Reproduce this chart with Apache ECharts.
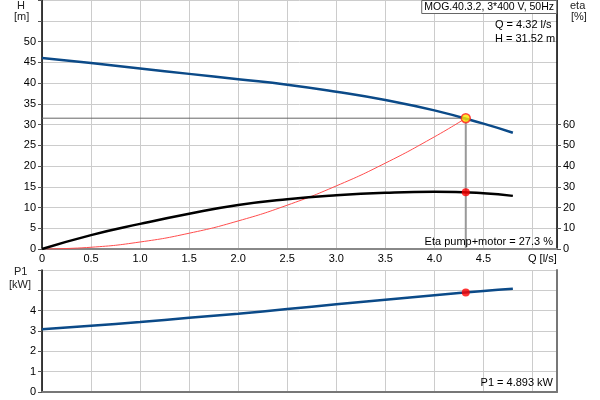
<!DOCTYPE html>
<html>
<head>
<meta charset="utf-8">
<script src="https://cdn.jsdelivr.net/npm/echarts@6/dist/echarts.min.js"></script>
<style>
html,body{margin:0;padding:0;background:#fff;}
#chart{width:600px;height:400px;}
</style>
</head>
<body>
<div id="chart"></div>
<script>
// ---- data ----
const Q = [0, 0.5, 1.0, 1.5, 2.0, 2.5, 3.0, 3.5, 4.0, 4.5, 4.8];
const H = [46.0, 44.8, 43.5, 42.2, 40.9, 39.6, 37.9, 35.9, 33.4, 30.2, 28.0];
const ETA = [0, 6.7, 12.1, 17.0, 21.2, 24.0, 25.9, 27.1, 27.6, 26.9, 25.6];
const P1 = [3.09, 3.26, 3.44, 3.65, 3.85, 4.08, 4.31, 4.54, 4.76, 4.97, 5.08];
const Q_SYS = [0, 0.5, 1.0, 1.5, 2.0, 2.5, 3.0, 3.5, 4.0, 4.32];
const H_SYS = [0, 0.42, 1.69, 3.80, 6.76, 10.56, 15.20, 20.69, 27.02, 31.52];
const Q_OP = 4.32, H_OP = 31.52, ETA_OP = 27.3, P1_OP = 4.893;
const H_TICKS = [0, 5, 10, 15, 20, 25, 30, 35, 40, 45, 50];
const ETA_TICKS = [0, 10, 20, 30, 40, 50, 60];
const P1_TICKS = [0, 1, 2, 3, 4];
const TITLE = 'MOG.40.3.2, 3*400 V, 50Hz';

const pair = (xs, ys) => xs.map((x, i) => [x, ys[i]]);
const FONT = '"Liberation Sans", Arial, sans-serif';
const GRID_C = '#cccccc';
const xLabel = v => (v === 0 ? '0' : (v > 4.9 ? '' : v.toFixed(1)));

function build(f) {
  const txt = (text, pos, size, color) => Object.assign({
    text: text, padding: 0, itemGap: 0,
    textStyle: f.plainText ? {fontSize: size || 11, fontWeight: 'normal', color: color || '#000'}
      : {fontSize: size || 11, fontWeight: 'normal', fontFamily: FONT, color: color || '#000'}
  }, pos);
  const box = Object.assign(txt(TITLE, {right: 43, top: 0}, 10.5), {padding: [2, 3, 1, 3], borderColor: '#666', borderWidth: 1});
  if (!f.noBg) box.backgroundColor = '#fff';
  const guides = f.markGuides ? [] : [
    {type: 'line', xAxisIndex: 0, yAxisIndex: 0, data: [[0, H_OP], [Q_OP, H_OP]], showSymbol: false,
      lineStyle: {color: '#666', width: 1}, z: 2},
    {type: 'line', xAxisIndex: 0, yAxisIndex: 0, data: [[Q_OP, H_OP], [Q_OP, 0]], showSymbol: false,
      lineStyle: {color: '#999', width: 2}, z: 2}
  ];
  const sys = {type: 'line', xAxisIndex: 0, yAxisIndex: 0, smooth: true, data: pair(Q_SYS, H_SYS), showSymbol: false,
    lineStyle: {color: '#ff4d4d', width: 1}, z: 3};
  if (f.markGuides) {
    sys.markLine = {silent: true, symbol: 'none', label: {show: false},
      data: [[{coord: [0, H_OP]}, {coord: [Q_OP, H_OP]}], [{coord: [Q_OP, H_OP]}, {coord: [Q_OP, 0]}]]};
  }
  return {
    animation: false,
    title: [
      box,
      txt('Q = ' + Q_OP.toFixed(2) + ' l/s', {left: 495, top: 19}),
      txt('H = ' + H_OP.toFixed(2) + ' m', {left: 495, top: 33}),
      txt('Eta pump+motor = ' + ETA_OP.toFixed(1) + ' %', {right: 47, top: 236}),
      txt('P1 = ' + P1_OP.toFixed(3) + ' kW', {right: 47, top: 377}),
      txt('Q [l/s]', {left: 528, top: 253}),
      txt('H', {left: 17, top: 0}, 11, '#222'),
      txt('[m]', {left: 14, top: 11}, 11, '#222'),
      txt('eta', {left: 570, top: 0}, 11, '#222'),
      txt('[%]', {left: 571, top: 11}, 11, '#222'),
      txt('P1', {left: 14, top: 266}, 11, '#222'),
      txt('[kW]', {left: 9, top: 279}, 11, '#222')
    ],
    grid: [
      {left: 42, right: 43, top: 0, height: 249},
      {left: 42, right: 43, top: 270, height: 122}
    ],
    xAxis: [
      {gridIndex: 0, type: 'value', min: 0, max: 5.25, interval: 0.5,
        axisLine: {show: true, lineStyle: {color: '#888', width: 2}}, axisTick: {show: false},
        axisLabel: {color: '#000', fontSize: 11, fontFamily: FONT, margin: 4, formatter: xLabel, showMaxLabel: false},
        splitLine: {show: true, lineStyle: {color: GRID_C, width: 1}}},
      {gridIndex: 1, type: 'value', min: 0, max: 5.25, interval: 0.5,
        axisLine: {show: true, lineStyle: {color: '#777', width: 2}}, axisTick: {show: false},
        axisLabel: {show: false},
        splitLine: {show: true, lineStyle: {color: GRID_C, width: 1}}}
    ],
    yAxis: [
      {gridIndex: 0, type: 'value', min: 0, max: 60, interval: 5,
        axisLine: {show: true, lineStyle: {color: '#000', width: 1.5}},
        axisTick: {show: true, length: 4, lineStyle: {color: '#555'}},
        axisLabel: {color: '#000', fontSize: 11, fontFamily: FONT, margin: 6, customValues: H_TICKS},
        splitLine: {show: true, lineStyle: {color: GRID_C, width: 1}}},
      {gridIndex: 0, type: 'value', min: 0, max: 120, interval: 10, position: 'right',
        axisLine: {show: true, lineStyle: {color: '#000', width: 1.5}},
        axisTick: {show: true, length: 4, lineStyle: {color: '#555'}, customValues: ETA_TICKS},
        axisLabel: {color: '#000', fontSize: 11, fontFamily: FONT, margin: 6, customValues: ETA_TICKS},
        splitLine: {show: false}},
      {gridIndex: 1, type: 'value', min: 0, max: 6, interval: 1,
        axisLine: {show: true, lineStyle: {color: '#000', width: 1.5}},
        axisTick: {show: true, length: 4, lineStyle: {color: '#555'}},
        axisLabel: {color: '#000', fontSize: 11, fontFamily: FONT, margin: 6, customValues: P1_TICKS},
        splitLine: {show: true, lineStyle: {color: GRID_C, width: 1}}},
      {gridIndex: 1, type: 'value', min: 0, max: 6, interval: 1, position: 'right',
        axisLine: {show: true, lineStyle: {color: '#777', width: 2}},
        axisTick: {show: false}, axisLabel: {show: false}, splitLine: {show: false}}
    ],
    series: guides.concat([
      sys,
      {type: 'line', xAxisIndex: 0, yAxisIndex: 0, smooth: true, data: pair(Q, H), showSymbol: false,
        lineStyle: {color: '#0b4a88', width: 2.5}, z: 4},
      {type: 'line', xAxisIndex: 0, yAxisIndex: 1, smooth: true, data: pair(Q, ETA), showSymbol: false,
        lineStyle: {color: '#000', width: 2.5}, z: 4},
      {type: 'line', xAxisIndex: 1, yAxisIndex: 2, smooth: true, data: pair(Q, P1), showSymbol: false,
        lineStyle: {color: '#0b4a88', width: 2.5}, z: 4},
      {type: 'scatter', xAxisIndex: 0, yAxisIndex: 0, data: [[Q_OP, H_OP]], symbolSize: 9,
        itemStyle: {color: '#ffe600', borderColor: '#ff2020', borderWidth: 1.5}, z: 6},
      {type: 'scatter', xAxisIndex: 0, yAxisIndex: 1, data: [[Q_OP, ETA_OP]], symbolSize: 8,
        itemStyle: {color: '#ff0000'}, z: 6},
      {type: 'scatter', xAxisIndex: 1, yAxisIndex: 2, data: [[Q_OP, P1_OP]], symbolSize: 8,
        itemStyle: {color: '#ff0000'}, z: 6}
    ])
  };
}

const chart = echarts.init(document.getElementById('chart'));

// check that the grid lines actually reached the canvas (a vertical grid line crosses x~140, y=135)
function gridVisible() {
  try {
    chart.getZr().flush();
    const cvs = chart.getDom().querySelector('canvas');
    const d = cvs.getContext('2d').getImageData(136, 135, 8, 1).data;
    for (let i = 0; i < d.length; i += 4) {
      if (d[i + 3] > 30 && d[i] < 245) return true;
    }
  } catch (e) { return true; }
  return false;
}

const variants = [
  {},
  {noBg: 1},
  {noBg: 1, plainText: 1},
  {noBg: 1, plainText: 1, markGuides: 1},
  {markGuides: 1}
];
let ok = false;
for (const v of variants) {
  chart.clear();
  chart.setOption(build(v), true);
  if (gridVisible()) { ok = true; break; }
}
if (!ok) { chart.clear(); chart.setOption(build({}), true); }
</script>
</body>
</html>
